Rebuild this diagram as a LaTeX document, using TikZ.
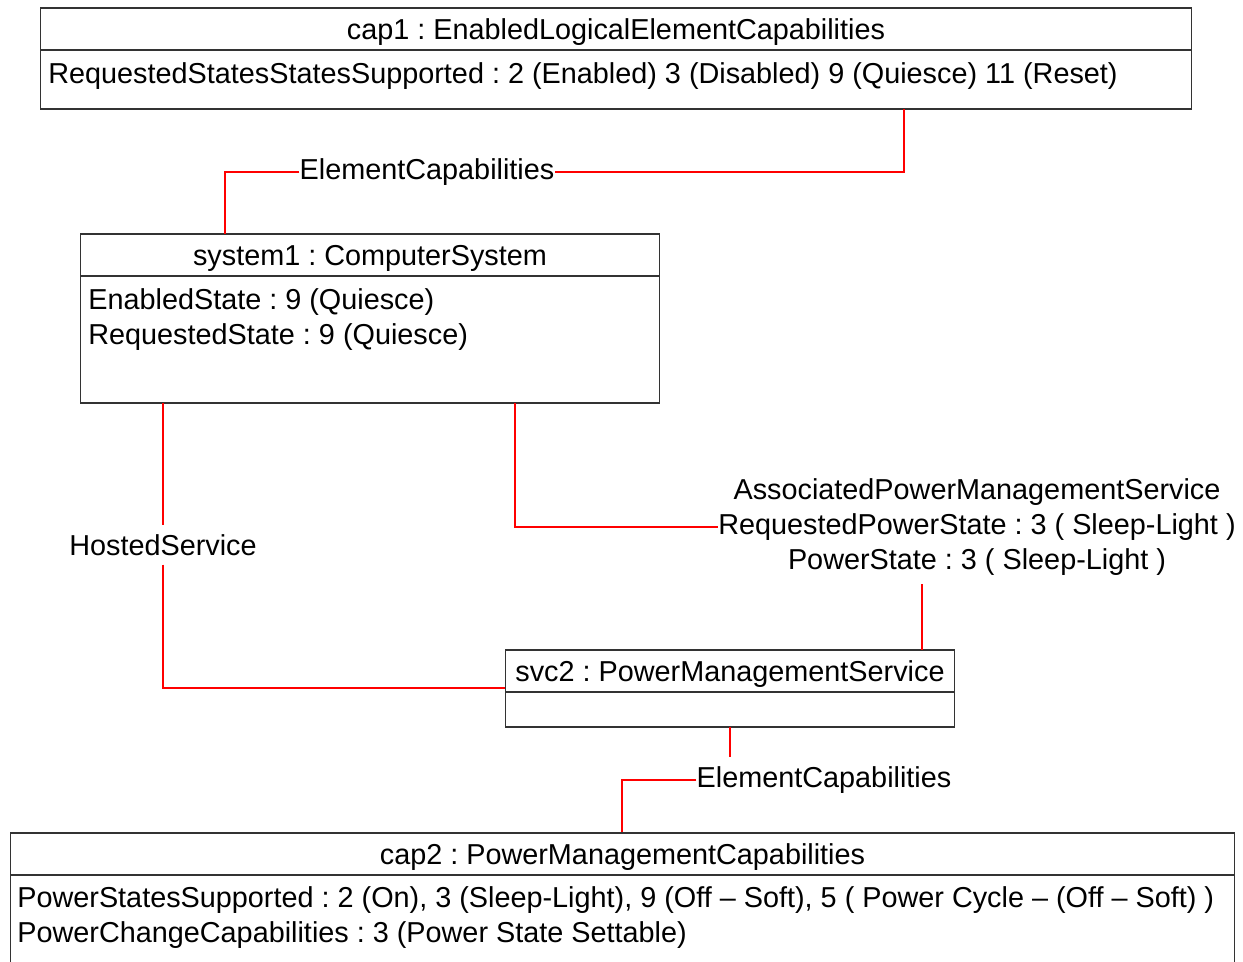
\documentclass[tikz,border=0pt]{standalone}
\usepackage{fontspec}
\setmainfont{Liberation Sans}
\usetikzlibrary{positioning}
\newcommand{\umlfont}{\fontsize{16.4}{19.84}\selectfont\frenchspacing}
\tikzset{
  titlebox/.style={draw=black!80, line width=0.6pt, inner sep=0pt, outer sep=0pt, font=\umlfont, minimum height=0.84cm, text height=12.5pt, text depth=0.5pt},
  bodybox/.style={draw=black!80, line width=0.6pt, inner sep=0pt, outer sep=0pt},
  attrtext/.style={inner sep=0pt, align=left, font=\umlfont, anchor=north west},
  assoclabel/.style={inner xsep=0pt, inner ysep=5pt, align=center, font=\umlfont},
  link/.style={draw=red, line width=0.6pt},
}
\begin{document}
\begin{tikzpicture}[x=0.02cm, y=-0.02cm]
                \useasboundingbox (0,0) rectangle (1243,961);
                \clip (0,0) rectangle (1243,961);

                \node[titlebox, minimum width=23.04cm] (cap1) at (616,29) {cap1 : EnabledLogicalElementCapabilities};
                \node[bodybox, minimum width=23.04cm, minimum height=1.18cm, below=0pt of cap1] (cap1body) {};
                \node[attrtext] (cap1attr) at (48,62) {RequestedStatesStatesSupported : 2 (Enabled) 3 (Disabled) 9 (Quiesce) 11 (Reset)};

                \node[titlebox, minimum width=11.6cm] (system1) at (370,255) {system1 : ComputerSystem};
                \node[bodybox, minimum width=11.6cm, minimum height=2.54cm, below=0pt of system1] (system1body) {};
                \node[attrtext] (system1attr) at (88,288) {EnabledState : 9 (Quiesce)\\RequestedState : 9 (Quiesce)};

                \node[titlebox, minimum width=9cm] (svc2) at (730,671) {svc2 : PowerManagementService};
                \node[bodybox, minimum width=9cm, minimum height=0.7cm, below=0pt of svc2] (svc2body) {};

                \node[titlebox, minimum width=24.5cm] (cap2) at (622.5,854) {cap2 : PowerManagementCapabilities};
                \node[bodybox, minimum width=24.5cm, minimum height=2.6cm, below=0pt of cap2] (cap2body) {};
                \node[attrtext] (cap2attr) at (17,886) {PowerStatesSupported : 2 (On), 3 (Sleep-Light), 9 (Off – Soft), 5 ( Power Cycle – (Off – Soft) )\\PowerChangeCapabilities : 3 (Power State Settable)};

                \node[assoclabel] (ec1) at (427,172) {ElementCapabilities};
                \node[assoclabel] (hosted) at (163,545) {HostedService};
                \node[assoclabel] (apms) at (977,527) {AssociatedPowerManagementService\\RequestedPowerState : 3 ( Sleep-Light )\\PowerState : 3 ( Sleep-Light )};
                \node[assoclabel] (ec2) at (824,780) {ElementCapabilities};

                \coordinate (cap1out) at (904,109);
                \coordinate (system1in) at (225,234);
                \coordinate (system1host) at (163,403);
                \coordinate (system1pm) at (515,403);
                \coordinate (svc2host) at (505,688);
                \coordinate (svc2pm) at (922,650);
                \coordinate (svc2cap) at (730,727);
                \coordinate (cap2in) at (622,832);

                \draw[link] (cap1out) |- (ec1.east);
                \draw[link] (ec1.west) -| (system1in);
                \draw[link] (system1host) -- (hosted.north);
                \draw[link] (hosted.south) |- (svc2host);
                \draw[link] (system1pm) |- (apms.west);
                \draw[link] (apms.south -| svc2pm) -- (svc2pm);
                \draw[link] (svc2cap) -- (svc2cap |- ec2.north);
                \draw[link] (ec2.west) -| (cap2in);
            \end{tikzpicture}
\end{document}
